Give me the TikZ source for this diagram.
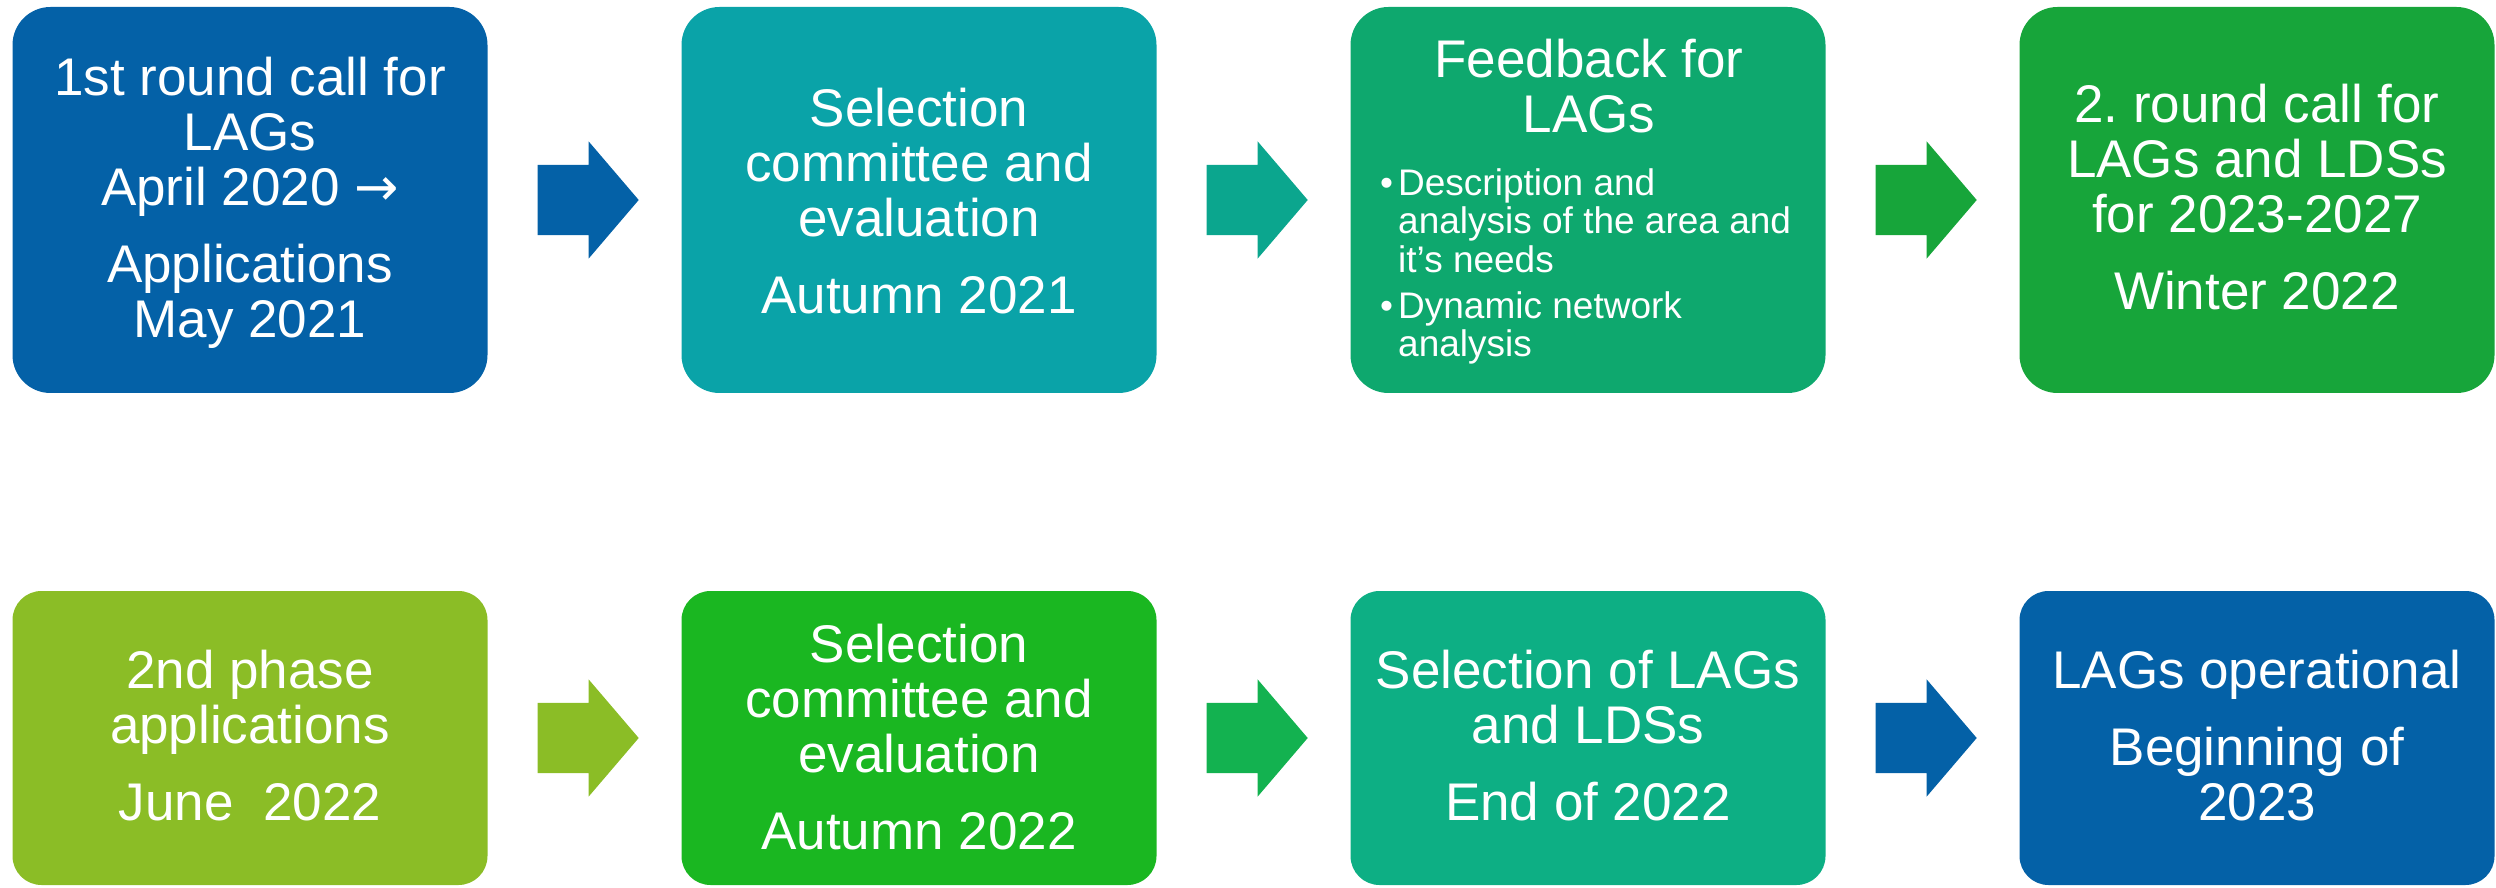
\documentclass[tikz,border=0pt]{standalone}
\usepackage{fontspec}
\setmainfont{Liberation Sans}
\newfontfamily\arrowfont{DejaVu Sans}
\usetikzlibrary{shapes.arrows,calc}
\definecolor{lagblue}{RGB}{4,97,167}
\definecolor{lagteal}{RGB}{10,163,168}
\definecolor{lagjade}{RGB}{14,168,110}
\definecolor{laggreen}{RGB}{23,165,58}
\definecolor{laglime}{RGB}{139,189,38}
\definecolor{lagleaf}{RGB}{26,183,33}
\definecolor{lagmint}{RGB}{13,175,132}
\definecolor{arrteal}{RGB}{11,166,142}
\definecolor{arrgreen}{RGB}{19,178,80}
\begin{document}
\begin{tikzpicture}[x=1pt,y=1pt,
  box/.style={rectangle, minimum width=475pt, inner sep=0pt},
  rowa/.style={box, minimum height=386pt, rounded corners=38pt},
  rowb/.style={box, minimum height=294pt, rounded corners=29pt},
  txt/.style={text=white, align=center, inner sep=0pt, font=\fontsize{53}{55}\selectfont},
  flow/.style={single arrow, single arrow head extend=23.5pt, single arrow tip angle=99,
    minimum height=101pt, inner xsep=0pt, inner ysep=35pt, anchor=tail}]
\useasboundingbox (0,0) rectangle (2496,887);
\node[rowa, fill=lagblue] (call1) at (250,687){};
\node[rowa, fill=lagteal] (review1) at (919,687){};
\node[rowa, fill=lagjade] (feedback) at (1588,687){};
\node[rowa, fill=laggreen] (call2) at (2257,687){};
\node[rowb, fill=laglime] (apply2) at (250,149){};
\node[rowb, fill=lagleaf] (review2) at (919,149){};
\node[rowb, fill=lagmint] (select) at (1588,149){};
\node[rowb, fill=lagblue] (operate) at (2257,149){};
\node[txt] (call1txt) at (250,684) {1st round call for\\LAGs\\April 2020 {\arrowfont →}\\[22pt]Applications\\May 2021};
\node[txt] (review1txt) at (919,685.5) {Selection\\committee and\\evaluation\\[22pt]Autumn 2021};
\node[txt] (fbtitle) at (1589,801) {Feedback for\\LAGs};
\node[text=white, anchor=north west, inner sep=0pt, font=\fontsize{37}{38.5}\selectfont] (fblist) at (1380,719)
  {\begin{tabular}{@{}p{18pt}@{}l@{}}•&Description and\\&analysis of the area and\\&it’s needs\\[7.5pt]•&Dynamic network\\&analysis\end{tabular}};
\node[txt] (call2txt) at (2257,690) {2.\ round call for\\LAGs and LDSs\\for 2023-2027\\[22pt]Winter 2022};
\node[txt] (apply2txt) at (250,151) {2nd phase\\applications\\[22pt]June~\ 2022};
\node[txt] (review2txt) at (919,149.5) {Selection\\committee and\\evaluation\\[22pt]Autumn 2022};
\node[txt] (selecttxt) at (1588,151.5) {Selection of LAGs\\and LDSs\\[22pt]End of 2022};
\node[txt] (operatetxt) at (2257,151) {LAGs operational\\[22pt]Beginning of\\2023};
\node[flow, fill=lagblue] (go1) at ($(call1.east)!0.5!(review1.west)+(-47,0)$){};
\node[flow, fill=arrteal] (go2) at ($(review1.east)!0.5!(feedback.west)+(-47,0)$){};
\node[flow, fill=laggreen] (go3) at ($(feedback.east)!0.5!(call2.west)+(-47,0)$){};
\node[flow, fill=laglime] (go4) at ($(apply2.east)!0.5!(review2.west)+(-47,0)$){};
\node[flow, fill=arrgreen] (go5) at ($(review2.east)!0.5!(select.west)+(-47,0)$){};
\node[flow, fill=lagblue] (go6) at ($(select.east)!0.5!(operate.west)+(-47,0)$){};
\end{tikzpicture}
\end{document}
